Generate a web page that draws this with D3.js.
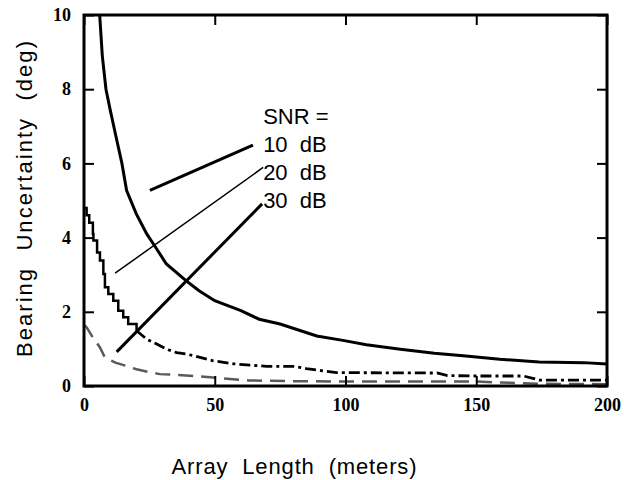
<!DOCTYPE html>
<html>
<head>
<meta charset="utf-8">
<script src="https://cdn.jsdelivr.net/npm/d3@7"></script>
<style>
  html, body { margin: 0; padding: 0; background: #fff; }
  svg { display: block; }
</style>
</head>
<body>
<svg id="chart" width="624" height="480"></svg>
<script>
// ---------- data ----------
const xTicks = [0, 50, 100, 150, 200];
const yTicks = [0, 2, 4, 6, 8, 10];

const snr10X = [6, 7, 8.4, 10, 12, 14.5, 16.3, 20, 24, 27, 31.5, 39, 44, 50, 60, 67, 75, 89, 99, 108, 121, 134, 146, 159, 174, 191, 200];
const snr10Y = [10, 8.9, 8.0, 7.45, 6.8, 6.0, 5.27, 4.64, 4.1, 3.78, 3.29, 2.84, 2.57, 2.3, 2.03, 1.8, 1.67, 1.35, 1.23, 1.11, 0.99, 0.88, 0.81, 0.72, 0.65, 0.63, 0.59];

const snr20X = [0, 1, 2, 3.4, 3.6, 5, 6.1, 7.4, 8, 9.3, 11.2, 13.1, 15, 16.9, 20.1, 24, 27.8, 31.6, 35.4, 39.3, 44.4, 49.4, 57.1, 63.5, 70, 80, 85, 90, 96.6, 99, 135, 139, 150, 168, 172, 174, 200];
const snr20Y = [4.8, 4.6, 4.4, 4.1, 3.92, 3.6, 3.38, 3.02, 2.66, 2.48, 2.3, 2.03, 1.85, 1.67, 1.49, 1.26, 1.13, 0.99, 0.9, 0.86, 0.77, 0.68, 0.6, 0.56, 0.53, 0.53, 0.47, 0.42, 0.36, 0.36, 0.35, 0.28, 0.27, 0.27, 0.2, 0.16, 0.16];

const snr30X = [0, 1, 3, 6.1, 8, 12, 16.3, 20.1, 25, 29, 33, 41.8, 50.7, 63, 80, 100, 130, 150, 165, 175, 200];
const snr30Y = [1.65, 1.58, 1.35, 1.04, 0.77, 0.63, 0.54, 0.45, 0.37, 0.32, 0.31, 0.27, 0.22, 0.15, 0.13, 0.12, 0.12, 0.12, 0.08, 0.06, 0.05];

const legendHead = "SNR =";
const legendLabels = ["10  dB", "20  dB", "30  dB"];
// leader lines in data units
const leaderStart = [[25.2, 5.27], [11.9, 3.04], [12.5, 0.92]];
const leaderEnd   = [[64.6, 6.49], [68.5, 5.89], [68.1, 4.91]];
const legendTextX = 68.5;
const legendTextY = [7.07, 6.31, 5.56, 4.81];

const xTitle = "Array  Length  (meters)";
const yTitle = "Bearing  Uncertainty  (deg)";

// ---------- layout ----------
const svg = d3.select("#chart");
const mLeft = 84, mRight = 607, mTop = 15, mBottom = 386;

const x = d3.scaleLinear().domain([0, 200]).range([mLeft, mRight]);
const y = d3.scaleLinear().domain([0, 10]).range([mBottom, mTop]);

const serif = "'Liberation Serif', 'Times New Roman', serif";
const sans = "'Liberation Sans', Arial, Helvetica, sans-serif";

svg.append("defs").append("clipPath").attr("id", "plotclip")
  .append("rect").attr("x", mLeft).attr("y", mTop).attr("width", mRight - mLeft).attr("height", mBottom - mTop);

const zipPts = (xs, ys) => xs.map((v, i) => [v, ys[i]]);
const lineLin = d3.line().x(d => x(d[0])).y(d => y(d[1]));
const lineStep = d3.line().x(d => x(d[0])).y(d => y(d[1])).curve(d3.curveStepAfter);

const plot = svg.append("g").attr("clip-path", "url(#plotclip)");

// 30 dB (grey dashed)
plot.append("path")
  .datum(zipPts(snr30X, snr30Y))
  .attr("d", lineLin)
  .attr("fill", "none")
  .attr("stroke", "#5a5a5a")
  .attr("stroke-width", 2.5)
  .attr("stroke-dasharray", "15,8");

// 20 dB (stepped, solid at first, then dash-dot)
const p20 = zipPts(snr20X, snr20Y);
plot.append("path")
  .datum(p20.filter(d => d[0] <= 20.1))
  .attr("d", lineStep)
  .attr("fill", "none")
  .attr("stroke", "#000")
  .attr("stroke-width", 2.5);
plot.append("path")
  .datum(p20.filter(d => d[0] >= 20.1))
  .attr("d", lineLin)
  .attr("fill", "none")
  .attr("stroke", "#000")
  .attr("stroke-width", 2.8)
  .attr("stroke-dasharray", "11,4,3,4");

// 10 dB (solid thick)
plot.append("path")
  .datum(zipPts(snr10X, snr10Y))
  .attr("d", lineLin)
  .attr("fill", "none")
  .attr("stroke", "#000")
  .attr("stroke-width", 3);

// ---------- axes ----------
const styleAxis = g => {
  g.select(".domain").remove();
  g.selectAll(".tick line").attr("stroke", "#000").attr("stroke-width", 2);
};
const styleLabels = g => g.selectAll(".tick text")
  .attr("font-family", serif).attr("font-weight", "bold").attr("font-size", 18).attr("fill", "#000");

svg.append("g")
  .attr("transform", `translate(0,${mBottom})`)
  .call(d3.axisBottom(x).tickValues(xTicks).tickSizeInner(-10).tickSizeOuter(0).tickPadding(12))
  .call(styleAxis).call(styleLabels);

svg.append("g")
  .attr("transform", `translate(${mLeft},0)`)
  .call(d3.axisLeft(y).tickValues(yTicks).tickSizeInner(-10).tickSizeOuter(0).tickPadding(13))
  .call(styleAxis).call(styleLabels);

svg.append("g")
  .attr("transform", `translate(0,${mTop})`)
  .call(d3.axisTop(x).tickValues(xTicks).tickSizeInner(-10).tickSizeOuter(0).tickFormat(""))
  .call(styleAxis);

svg.append("g")
  .attr("transform", `translate(${mRight},0)`)
  .call(d3.axisRight(y).tickValues(yTicks).tickSizeInner(-10).tickSizeOuter(0).tickFormat(""))
  .call(styleAxis);

// frame
svg.append("rect")
  .attr("x", mLeft).attr("y", mTop)
  .attr("width", mRight - mLeft).attr("height", mBottom - mTop)
  .attr("fill", "none").attr("stroke", "#000").attr("stroke-width", 3);

// ---------- legend annotation ----------
const leaderWidths = [3, 1.5, 3];
svg.append("g").selectAll("line")
  .data(leaderStart)
  .join("line")
  .attr("x1", d => x(d[0])).attr("y1", d => y(d[1]))
  .attr("x2", (d, i) => x(leaderEnd[i][0])).attr("y2", (d, i) => y(leaderEnd[i][1]))
  .attr("stroke", "#000")
  .attr("stroke-width", (d, i) => leaderWidths[i]);

svg.append("g").selectAll("text")
  .data([legendHead, ...legendLabels])
  .join("text")
  .attr("x", x(legendTextX))
  .attr("y", (d, i) => y(legendTextY[i]))
  .attr("font-family", sans)
  .attr("font-size", 22)
  .attr("fill", "#000")
  .style("white-space", "pre")
  .text(d => d);

// ---------- titles ----------
svg.append("text")
  .attr("x", 294).attr("y", 474)
  .attr("text-anchor", "middle")
  .attr("font-family", sans).attr("font-size", 22).attr("fill", "#000")
  .attr("textLength", 245).attr("lengthAdjust", "spacing")
  .style("white-space", "pre")
  .text(xTitle);

svg.append("text")
  .attr("transform", "translate(32,199) rotate(-90)")
  .attr("text-anchor", "middle")
  .attr("font-family", sans).attr("font-size", 22).attr("fill", "#000")
  .attr("textLength", 316).attr("lengthAdjust", "spacing")
  .style("white-space", "pre")
  .text(yTitle);
</script>
</body>
</html>
